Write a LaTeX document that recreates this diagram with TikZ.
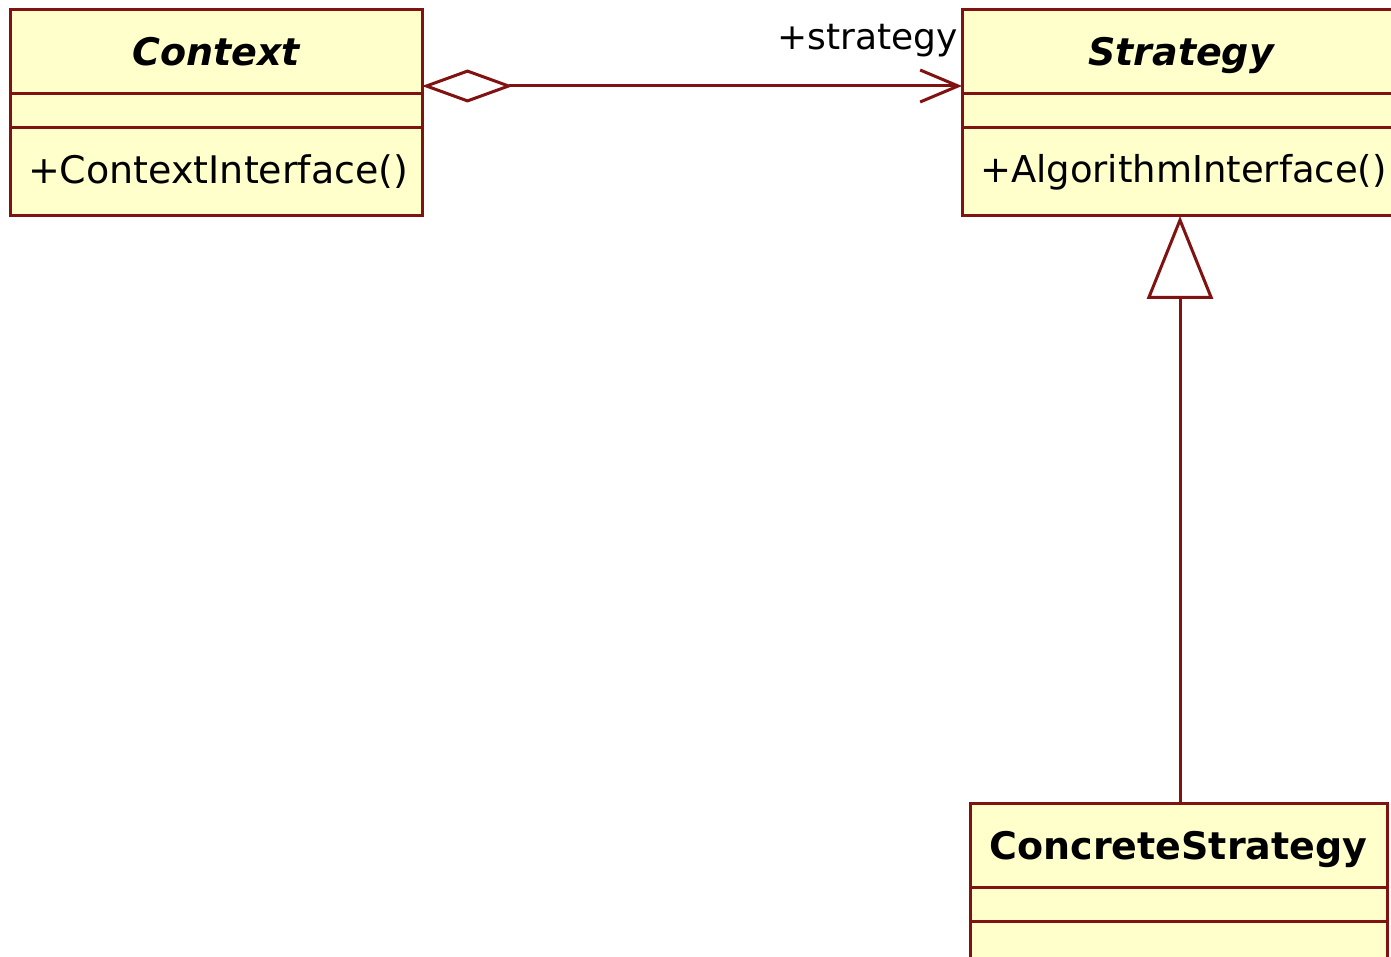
\documentclass[tikz,border=0pt]{standalone}
\usepackage{fontspec}
\setmainfont{DejaVu Sans}
\usetikzlibrary{arrows.meta}
\definecolor{umlred}{RGB}{128,18,18}
\definecolor{umlfill}{RGB}{255,255,204}
\begin{document}
\begin{tikzpicture}[x=1pt,y=-1pt,
  comp/.style={rectangle, draw=umlred, fill=umlfill, line width=3pt, inner sep=0pt, outer sep=0pt, text=black},
  titlefont/.style={font=\fontsize{38}{44}\selectfont\bfseries\itshape, text height=34pt, text depth=6pt},
  boldtitle/.style={font=\fontsize{38}{44}\selectfont\bfseries, text height=34pt, text depth=6pt},
  opsfont/.style={font=\fontsize{38}{44}\selectfont, align=left, inner xsep=18pt},
  conn/.style={draw=umlred, line width=3pt},
]
\useasboundingbox (0,0) rectangle (1391,957);
% Context
\node[comp, titlefont, minimum width=412pt, minimum height=84pt] (ctxT) at (216,52) {Context};
\node[comp, minimum width=412pt, minimum height=34pt] (ctxA) at (216,111) {};
\node[comp, opsfont, text width=376pt, minimum height=88pt] (ctxO) at (216,172) {+ContextInterface()};
% Strategy
\node[comp, titlefont, minimum width=438pt, minimum height=84pt] (stT) at (1181,52) {Strategy};
\node[comp, minimum width=438pt, minimum height=34pt] (stA) at (1181,111) {};
\node[comp, opsfont, font=\fontsize{37}{44}\selectfont, text width=402pt, minimum height=88pt] (stO) at (1181,172) {+AlgorithmInterface()};
% ConcreteStrategy
\node[comp, boldtitle, minimum width=417pt, minimum height=84pt] (conT) at (1178.5,845) {ConcreteStrategy};
\node[comp, minimum width=417pt, minimum height=34pt] (conA) at (1178.5,904) {};
\node[comp, minimum width=417pt, minimum height=80pt] (conO) at (1178.5,961) {};
% aggregation
\draw[conn, {Diamond[open, fill=white, length=91pt, width=33pt]}-{Straight Barb[length=38pt, width=32pt, line width=3pt]}]
  ([yshift=8pt]ctxT.south east) -- ([yshift=8pt]stT.south west)
  node[pos=1, anchor=south east, inner sep=0pt, yshift=28pt, xshift=-3pt, font=\fontsize{36}{42}\selectfont, text=black] (lbl) {+strategy};
% generalization
\draw[conn, -{Triangle[open, fill=white, length=83pt, width=66pt]}]
  ([xshift=1.5pt]conT.north) -- ([xshift=1.5pt]conT.north |- stO.south);
\end{tikzpicture}
\end{document}
